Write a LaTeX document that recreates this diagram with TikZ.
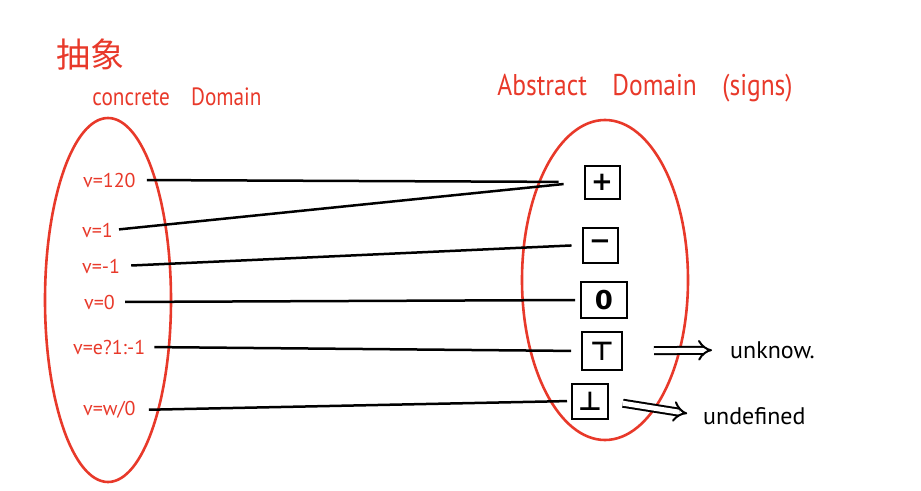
\documentclass[tikz,border=0pt]{standalone}
\usepackage{fontspec}
\setmainfont{PT Sans}
\newfontfamily\cjk{Noto Sans CJK SC}
\newfontfamily\symf{DejaVu Sans}
\usetikzlibrary{arrows.meta}
\definecolor{hred}{RGB}{232,57,42}
\begin{document}
\begin{tikzpicture}[x=1pt,y=-1pt,
  titletxt/.style={text=hred, font=\fontsize{25}{27}\selectfont, inner sep=0pt},
  valtxt/.style={text=hred, font=\fontsize{20}{22}\selectfont, inner sep=0pt, anchor=west},
  sbox/.style={draw=black, line width=2pt, inner sep=0pt, font=\symf\bfseries\fontsize{26}{28}\selectfont},
  map/.style={line width=2.5pt, black},
  oval/.style={draw=hred, line width=2.6pt},
  implies/.style={double, double distance=5pt, line width=2pt, -{Implies[length=9pt]}},
  bltxt/.style={font=\fontsize{24}{26}\selectfont, inner sep=0pt, anchor=west}]
\useasboundingbox (0,0) rectangle (921,490);
% domains
\draw[oval] (108,300) ellipse [x radius=63, y radius=182];
\draw[oval] (605,280) ellipse [x radius=83, y radius=160];
% titles
\node[text=hred, font=\cjk\fontsize{34}{36}\selectfont, inner sep=0pt] (zh) at (90,55) {抽象};
\node[titletxt] (cd) at (177,97) {\scalebox{0.85}[1]{concrete\quad Domain}};
\node[titletxt, font=\fontsize{30}{32}\selectfont] (ad) at (645,88) {\scalebox{0.85}[1]{Abstract\quad Domain\quad (signs)}};
% concrete values
\node[valtxt] (c1) at (83,180) {v=120};
\node[valtxt] (c2) at (82,230) {v=1};
\node[valtxt] (c3) at (82,266) {v=-1};
\node[valtxt] (c4) at (84,302) {v=0};
\node[valtxt] (c5) at (73,347) {v=e?1:-1};
\node[valtxt] (c6) at (83,410) {v=w/0};
% abstract values
\node[sbox, minimum width=35pt, minimum height=33pt] (pbox) at (602,182) {+};
\node[sbox, minimum width=35pt, minimum height=35pt] (mbox) at (600,245) {−};
\node[sbox, minimum width=46pt, minimum height=36pt] (zbox) at (604,300) {0};
\node[sbox, minimum width=40pt, minimum height=38pt] (tbox) at (602,351) {⊤};
\node[sbox, minimum width=36pt, minimum height=35pt] (bbox) at (590,401) {⊥};
% mappings
\draw[map, shorten <=11pt, shorten >=25pt] (c1.east) -- (pbox.west);
\draw[map, shorten <=6pt, shorten >=20pt] (c2.east) -- (pbox.west);
\draw[map, shorten <=11pt, shorten >=10pt] (c3.east) -- (mbox.west);
\draw[map, shorten <=10pt, shorten >=5pt] (c4.east) -- (zbox.west);
\draw[map, shorten <=9pt, shorten >=10pt] (c5.east) -- (tbox.west);
\draw[map, shorten <=13pt, shorten >=4pt] (c6.east) -- (bbox.west);
% notes
\node[bltxt] (unk) at (730,350) {unknow.};
\node[bltxt] (und) at (703,416) {undefined};
\draw[implies, shorten <=31pt, shorten >=18pt] (tbox.east) -- (unk.west);
\draw[implies, shorten <=14pt, shorten >=16pt] (bbox.east) -- (und.west);
\end{tikzpicture}
\end{document}
